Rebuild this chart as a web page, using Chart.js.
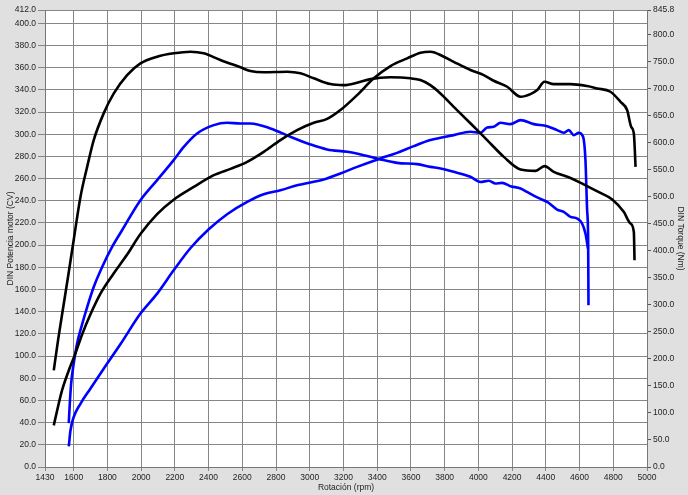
<!DOCTYPE html>
<html>
<head>
<meta charset="utf-8">
<script src="https://cdn.jsdelivr.net/npm/chart.js@4.4.1/dist/chart.umd.min.js"></script>
<style>
  html, body { margin: 0; padding: 0; background: #e0e0e0; }
  #wrap { width: 688px; height: 495px; }
</style>
</head>
<body>
<div id="wrap"><canvas id="dyno" width="688" height="495"></canvas></div>
<script>
// tick labels
const rpmTicks = [1430, 1600, 1800, 2000, 2200, 2400, 2600, 2800, 3000, 3200, 3400, 3600, 3800, 4000, 4200, 4400, 4600, 4800, 5000];
const cvTicks = [0, 20, 40, 60, 80, 100, 120, 140, 160, 180, 200, 220, 240, 260, 280, 300, 320, 340, 360, 380, 400, 412];
const nmTicks = [0, 50, 100, 150, 200, 250, 300, 350, 400, 450, 500, 550, 600, 650, 700, 750, 800, 845.8];

// black run - power (CV)
const blackPowerRpm = [1482, 1502, 1531, 1571, 1610, 1650, 1699, 1759, 1837, 1917, 1996, 2095, 2193, 2312, 2431, 2530, 2629, 2727, 2826, 2925, 3024, 3103, 3182, 3281, 3380, 3479, 3578, 3657, 3716, 3795, 3854, 3953, 4032, 4091, 4171, 4250, 4309, 4349, 4392, 4447, 4545, 4645, 4704, 4783, 4843, 4882, 4906, 4922, 4928, 4932];
const blackPowerCv = [37.5, 51, 69, 87, 102.2, 119.5, 137.5, 156.3, 174.4, 191.5, 210, 228, 241, 252.5, 263.1, 268.8, 275.1, 284.1, 294.7, 303.7, 310.3, 313.8, 321.8, 335.3, 350.4, 361.5, 368.4, 373.5, 374.4, 369.9, 365.3, 357.9, 353.3, 348.2, 342.8, 333.8, 336.2, 339.8, 347.3, 345.2, 345.2, 343.4, 341.3, 338.3, 329.2, 321.8, 306.7, 300.7, 285, 270.6];

// black run - torque (Nm)
const blackTorqueRpm = [1482, 1509, 1539, 1569, 1600, 1640, 1680, 1719, 1778, 1838, 1917, 1996, 2095, 2193, 2292, 2371, 2470, 2589, 2648, 2727, 2866, 2945, 3024, 3123, 3202, 3281, 3360, 3479, 3597, 3656, 3715, 3775, 3854, 3954, 4052, 4151, 4250, 4339, 4392, 4447, 4546, 4645, 4724, 4794, 4862, 4902, 4922, 4926];
const blackTorqueNm = [178.8, 238, 297.4, 356.7, 419.7, 499.4, 555.5, 605, 654.5, 691.4, 725.3, 747.1, 759.4, 765.6, 768.6, 765.6, 753.2, 739.7, 732.9, 730.5, 731.5, 728.6, 719.4, 708.7, 706.8, 711.2, 717.9, 721.2, 719.4, 716.1, 706.8, 691.4, 666.6, 635.8, 605, 574, 550.6, 548.1, 556.8, 546.3, 535, 519.8, 507.3, 495.2, 472.2, 450.6, 435, 382.7];

// blue run - power (CV)
const bluePowerRpm = [1571, 1581, 1600, 1640, 1699, 1778, 1877, 1996, 2095, 2193, 2292, 2401, 2510, 2629, 2727, 2826, 2925, 3083, 3182, 3281, 3419, 3518, 3617, 3716, 3854, 3953, 4012, 4052, 4091, 4131, 4190, 4250, 4329, 4408, 4467, 4506, 4536, 4566, 4595, 4621, 4635, 4645, 4651, 4653];
const bluePowerCv = [18.5, 32.9, 45, 57, 70.6, 88.6, 110.6, 138.3, 156.3, 177.3, 197.2, 214.3, 227.9, 239, 245.9, 249.5, 254, 259.2, 264.6, 270.6, 278.2, 283.2, 289.3, 294.7, 299.2, 302.2, 301.3, 306.1, 306.7, 310.3, 309.1, 312.7, 309.1, 307.3, 303.7, 301.3, 303.7, 299.2, 301.3, 297.7, 276.6, 231.5, 204.4, 145.8];

// blue run - torque (Nm)
const blueTorqueRpm = [1571, 1577, 1585, 1600, 1620, 1650, 1680, 1719, 1769, 1828, 1887, 1996, 2095, 2193, 2253, 2332, 2431, 2510, 2589, 2648, 2767, 2885, 3004, 3103, 3222, 3320, 3419, 3518, 3637, 3716, 3775, 3854, 3953, 4012, 4062, 4101, 4141, 4190, 4250, 4289, 4349, 4408, 4467, 4506, 4546, 4586, 4615, 4635, 4650];
const blueTorqueNm = [81.1, 117, 154.2, 191.1, 228.3, 264, 296, 333.2, 370.2, 407.3, 438.1, 493.7, 530.9, 567.9, 592.5, 617.3, 632.7, 637, 635.8, 635.8, 626.6, 611.2, 597, 587.8, 583.3, 577.1, 569.3, 562.9, 560.5, 555.5, 552.5, 546.3, 537.1, 527.6, 529.7, 524.7, 525.8, 519.8, 515.5, 509.1, 498.9, 490.7, 476.5, 472.2, 463, 459.9, 450.6, 432.2, 404.4];

const pts = (xs, ys) => xs.map((x, i) => ({ x: x, y: ys[i] }));

// gray page, white plotting area
const bgPlugin = {
  id: "bg",
  beforeDraw(chart) {
    const { ctx, chartArea: a } = chart;
    ctx.save();
    ctx.fillStyle = "#e0e0e0";
    ctx.fillRect(0, 0, chart.width, chart.height);
    ctx.fillStyle = "#ffffff";
    ctx.fillRect(a.left, a.top, a.right - a.left, a.bottom - a.top);
    ctx.restore();
  }
};

const lineOpts = (color) => ({
  borderColor: color,
  backgroundColor: color,
  borderWidth: 2.6,
  pointRadius: 0,
  fill: false,
  cubicInterpolationMode: "monotone"
});

const font = { family: "'Liberation Sans', Arial, sans-serif", size: 8.5 };
const gridColor = "#868686";
const textColor = "#1e1e1e";

new Chart(document.getElementById("dyno").getContext("2d"), {
  type: "line",
  data: {
    datasets: [
      { label: "Potencia 1", data: pts(blackPowerRpm, blackPowerCv), yAxisID: "y", ...lineOpts("#000000") },
      { label: "Torque 1", data: pts(blackTorqueRpm, blackTorqueNm), yAxisID: "y1", ...lineOpts("#000000") },
      { label: "Potencia 2", data: pts(bluePowerRpm, bluePowerCv), yAxisID: "y", ...lineOpts("#0000ff") },
      { label: "Torque 2", data: pts(blueTorqueRpm, blueTorqueNm), yAxisID: "y1", ...lineOpts("#0000ff") }
    ]
  },
  options: {
    responsive: false,
    animation: false,
    layout: { padding: { top: 10, left: 0, right: 0, bottom: 0 } },
    plugins: {
      legend: { display: false },
      tooltip: { enabled: false }
    },
    scales: {
      x: {
        type: "linear",
        min: 1430,
        max: 5000,
        afterBuildTicks: s => { s.ticks = rpmTicks.map(v => ({ value: v })); },
        afterFit: s => { s.height = 28; },
        ticks: { color: textColor, font, padding: 2, maxRotation: 0, autoSkip: false, callback: v => String(v) },
        grid: { color: gridColor, tickLength: 4 },
        border: { color: "#777" },
        title: { display: true, text: "Rotación (rpm)", color: textColor, font, padding: { top: 0, bottom: 2 } }
      },
      y: {
        type: "linear",
        position: "left",
        min: 0,
        max: 412,
        afterBuildTicks: s => { s.ticks = cvTicks.map(v => ({ value: v })); },
        afterFit: s => { s.width = 45; },
        ticks: { color: textColor, font, padding: 2, autoSkip: false, callback: v => v.toFixed(1) },
        grid: { color: gridColor, tickLength: 7 },
        border: { color: "#777" },
        title: { display: true, text: "DIN Potencia motor (CV)", color: textColor, font, padding: { top: 6, bottom: 0 } }
      },
      y1: {
        type: "linear",
        position: "right",
        min: 0,
        max: 845.8,
        afterBuildTicks: s => { s.ticks = nmTicks.map(v => ({ value: v })); },
        afterFit: s => { s.width = 41; },
        ticks: { color: textColor, font, padding: 2, autoSkip: false, callback: v => v.toFixed(1) },
        grid: { drawOnChartArea: false, color: "#555", tickLength: 4 },
        border: { color: "#777" },
        title: { display: true, text: "DIN Torque (Nm)", color: textColor, font, padding: { top: 3, bottom: 0 } }
      }
    }
  },
  plugins: [bgPlugin]
});
</script>
</body>
</html>
